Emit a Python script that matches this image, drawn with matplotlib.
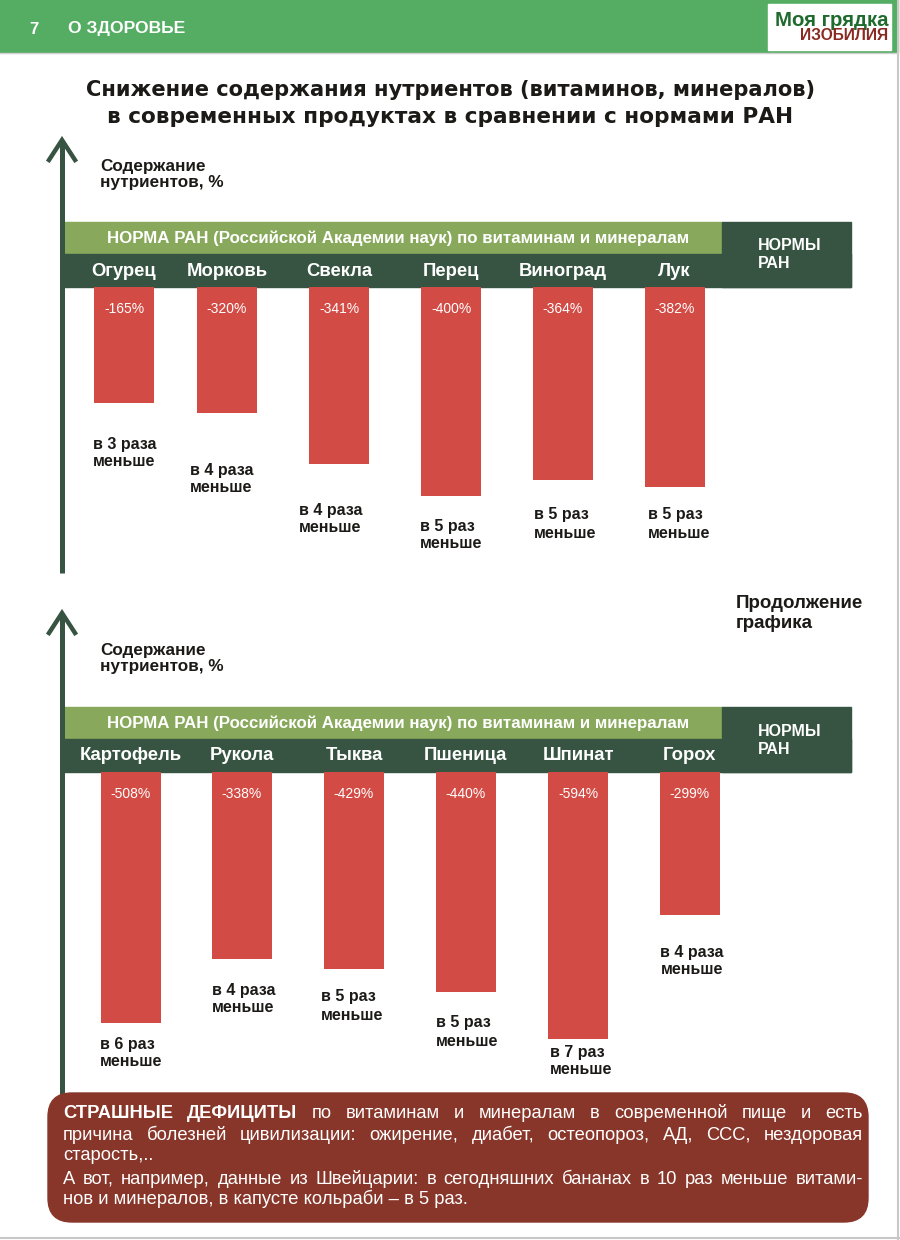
import matplotlib
matplotlib.use('Agg')
import matplotlib.pyplot as plt
from matplotlib import font_manager
from matplotlib.patches import Rectangle, FancyBboxPatch

SANS = ['Liberation Sans', 'DejaVu Sans']
HEAVY = ['DejaVu Sans']
installed = {f.name for f in font_manager.fontManager.ttflist}
if 'Liberation Sans Narrow' in installed:
    NARROW, BOX_SIZE = ['Liberation Sans Narrow', 'DejaVu Sans'], 14.5
else:
    NARROW, BOX_SIZE = SANS, 13.2

# --- data ---
top_products = ['Огурец', 'Морковь', 'Свекла', 'Перец', 'Виноград', 'Лук']
top_pct = [-165, -320, -341, -400, -364, -382]
top_notes = ['в 3 раза', 'в 4 раза', 'в 4 раза', 'в 5 раз', 'в 5 раз', 'в 5 раз']
top_bar_len = [116, 126, 177, 209, 193, 200]   # drawn bar length

bottom_products = ['Картофель', 'Рукола', 'Тыква', 'Пшеница', 'Шпинат', 'Горох']
bottom_pct = [-508, -338, -429, -440, -594, -299]
bottom_notes = ['в 6 раз', 'в 4 раза', 'в 5 раз', 'в 5 раз', 'в 7 раз', 'в 4 раза']
bottom_bar_len = [251, 187, 197, 220, 267, 143]

title_lines = ['Снижение содержания нутриентов (витаминов, минералов)',
               'в современных продуктах в сравнении с нормами РАН']
band_text = 'НОРМА РАН (Российской Академии наук) по витаминам и минералам'

box_lines = [
    [('СТРАШНЫЕ', 'bold'), ('ДЕФИЦИТЫ', 'bold')] +
    [(w, 'normal') for w in 'по витаминам и минералам в современной пище и есть'.split()],
    'причина болезней цивилизации: ожирение, диабет, остеопороз, АД, ССС, нездоровая',
    'старость,..',
    'А вот, например, данные из Швейцарии: в сегодняшних бананах в 10 раз меньше витами-',
    'нов и минералов, в капусте кольраби – в 5 раз.',
]
box_justified = [True, True, False, True, False]

# --- layout (pixels) ---
top_x = [124, 227, 339, 451, 562.5, 674.5]
bottom_x = [130.5, 242, 354, 465.5, 578, 689.5]
top_note_gap = [41, 57, 46, 30, 35, 28]
bottom_note_gap = [21, 31, 28, 31, 13, 37]
top_note_dx = [-1, -7, -10, -1, 1, 3]
bottom_note_dx = [-1, 0, -3, 0, 2, 1]

GREEN_HDR = '#55ad64'
LIGHT = '#88a95b'
DARK = '#365441'
RED = '#d24b45'
BOX = '#883629'
INK = '#1c1a17'

fig = plt.figure(figsize=(9, 12.4), dpi=100)
ax = fig.add_axes([0, 0, 1, 1])
ax.set_xlim(0, 900)
ax.set_ylim(1240, 0)
ax.axis('off')
renderer = fig.canvas.get_renderer()


def width_of(t):
    return t.get_window_extent(renderer).width


def fit_text(x, y, s, width, size=12, **kw):
    t = ax.text(x, y, s, fontsize=size, **kw)
    t.set_fontsize(size * width / width_of(t))
    return t


def justify(x0, x1, y, words, size, color):
    # words placed one by one on a common baseline, gaps spread evenly
    texts = [ax.text(0, y, w, fontsize=size, fontweight=wt, color=color,
                     va='baseline', family=NARROW, zorder=7)
             for w, wt in words]
    widths = [width_of(t) for t in texts]
    min_gap = 0.22 * size
    natural = sum(widths) + min_gap * (len(texts) - 1)
    if natural > x1 - x0:
        k = (x1 - x0) / natural
        for t in texts:
            t.set_fontsize(size * k)
        widths = [w * k for w in widths]
    gap = (x1 - x0 - sum(widths)) / (len(texts) - 1)
    x = x0
    for t, w in zip(texts, widths):
        t.set_x(x)
        x += w + gap


# header
ax.add_patch(Rectangle((0, 0), 898, 52, color=GREEN_HDR, zorder=1))
ax.text(29, 29, '7', color='white', fontsize=12, fontweight='bold',
        va='center', family=SANS)
fit_text(68, 29, 'О ЗДОРОВЬЕ', 117, color='white', fontweight='bold',
         va='center', family=SANS)
ax.add_patch(Rectangle((768, 4), 123, 46, color='white', zorder=2))
fit_text(775, 20, 'Моя грядка', 113, color='#1f6b2e', fontweight='bold',
         va='center', family=SANS, zorder=3)
fit_text(800, 36, 'ИЗОБИЛИЯ', 88, color='#8a2a22', fontweight='bold',
         va='center', family=SANS, zorder=3)

# page border
ax.plot([898, 898], [0, 1240], color='#c8c8c8', lw=1.5)
ax.plot([0, 900], [1238, 1238], color='#c8c8c8', lw=1.5)
ax.plot([0, 898], [52.5, 52.5], color='#d0d0d0', lw=1)

# title
fit_text(450, 90, title_lines[0], 728, color=INK, fontweight='bold',
         ha='center', va='center', family=HEAVY)
fit_text(450, 117, title_lines[1], 683, color=INK, fontweight='bold',
         ha='center', va='center', family=HEAVY)


def draw_chart(band_top, axis_top, axis_bottom, label_y, products, pct,
               notes, bar_len, xs, gaps, dxs):
    band_mid = band_top + 32
    band_bot = band_top + 65
    # axis arrow
    ax.plot([62, 62], [axis_top + 2, axis_bottom], color=DARK, lw=3.6,
            solid_capstyle='butt', zorder=5)
    ax.plot([49, 62, 75], [axis_top + 20, axis_top, axis_top + 20],
            color=DARK, lw=3.2, solid_joinstyle='miter', zorder=5)
    ax.text(100, label_y, 'Содержание', color=INK, fontsize=12.3,
            fontweight='bold', va='center', family=SANS)
    ax.text(100, label_y + 16, 'нутриентов, %', color=INK, fontsize=12.3,
            fontweight='bold', va='center', family=SANS)
    # bands
    ax.add_patch(Rectangle((63, band_top), 659, 32, color=LIGHT, zorder=2))
    ax.add_patch(Rectangle((63, band_mid), 788, band_bot - band_mid,
                           color=DARK, zorder=2))
    ax.add_patch(Rectangle((722, band_top), 129, 65, color=DARK, zorder=2))
    fit_text(107, band_top + 16.5, band_text, 583, color='white',
             fontweight='bold', va='center', family=SANS, zorder=3)
    ax.text(758, band_top + 24, 'НОРМЫ', color='white', fontsize=11.5,
            fontweight='bold', va='center', family=SANS, zorder=3)
    ax.text(758, band_top + 42, 'РАН', color='white', fontsize=11.5,
            fontweight='bold', va='center', family=SANS, zorder=3)
    # bars
    ax.bar(xs, bar_len, width=60, bottom=band_bot, color=RED, zorder=3)
    for x, name, p, n, h, g, dx in zip(xs, products, pct, notes, bar_len,
                                       gaps, dxs):
        ax.text(x, band_mid + 17, name, color='white', fontsize=13.3,
                fontweight='bold', ha='center', va='center', family=SANS,
                zorder=3)
        ax.text(x, band_bot + 22, f'{p}%', color='white', fontsize=10,
                ha='center', va='center', family=SANS, zorder=4)
        ax.text(x - 30 + dx, band_bot + h + g, n, color=INK, fontsize=11.5,
                fontweight='bold', va='center', family=SANS)
        ax.text(x - 30 + dx, band_bot + h + g + 18, 'меньше', color=INK,
                fontsize=11.5, fontweight='bold', va='center', family=SANS)


draw_chart(222, 140, 573, 167, top_products, top_pct, top_notes,
           top_bar_len, top_x, top_note_gap, top_note_dx)
draw_chart(707, 613, 1100, 650, bottom_products, bottom_pct, bottom_notes,
           bottom_bar_len, bottom_x, bottom_note_gap, bottom_note_dx)

ax.text(736, 603, 'Продолжение', color=INK, fontsize=13.5,
        fontweight='bold', va='center', family=SANS)
ax.text(736, 623, 'графика', color=INK, fontsize=13.5,
        fontweight='bold', va='center', family=SANS)

# bottom text box
ax.add_patch(FancyBboxPatch((48, 1093), 820, 129,
                            boxstyle='round,pad=0,rounding_size=24',
                            color=BOX, zorder=6))
line_y = [1112, 1133, 1153, 1177, 1198]
for y, line, just in zip(line_y, box_lines, box_justified):
    base = y + 6.5
    if just:
        words = line if not isinstance(line, str) else \
            [(w, 'normal') for w in line.split()]
        justify(63, 863, base, words, BOX_SIZE, 'white')
    else:
        ax.text(63, base, line, color='white', fontsize=BOX_SIZE,
                va='baseline', family=NARROW, zorder=7)

fig.savefig('out.png', dpi=100)
